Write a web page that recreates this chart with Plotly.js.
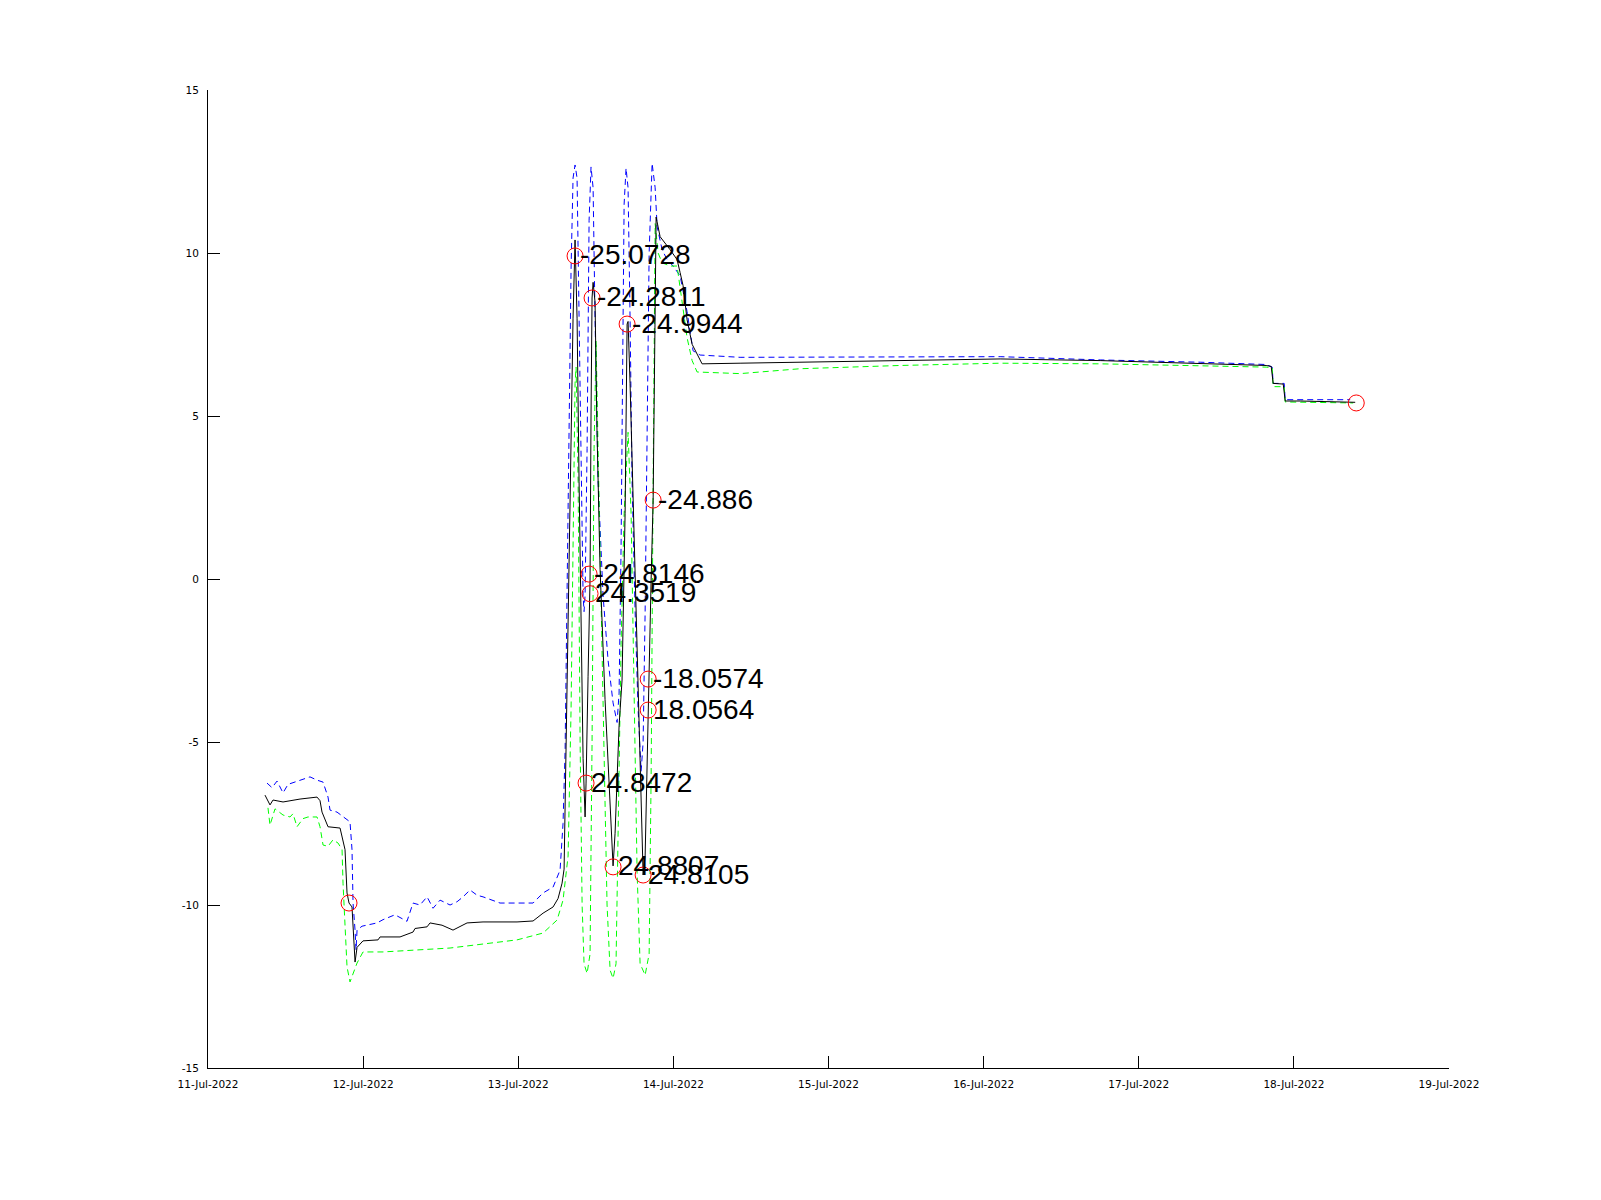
<!DOCTYPE html>
<html>
<head>
<meta charset="utf-8">
<script src="https://cdn.plot.ly/plotly-3.0.1.min.js"></script>
<style>html,body{margin:0;padding:0;background:#fff;}#chart{width:1601px;height:1200px;}</style>
</head>
<body>
<div id="chart"></div>
<script>
// Time values are hours since 11-Jul-2022 00:00
const blackHours = [8.82,9.59,10.06,11.61,14.24,16.87,17.33,17.64,18.57,20.43,21.20,21.51,21.82,22.28,22.75,23.06,23.98,26.31,26.62,29.71,31.72,32.03,33.89,34.35,36.21,37.91,40.08,42.55,47.81,50.29,51.84,53.39,54.16,54.78,55.09,55.40,56.02,56.48,56.79,57.10,57.41,57.72,58.03,58.34,58.49,58.80,59.11,59.26,59.42,59.58,59.88,60.19,60.66,61.43,62.05,62.67,62.98,63.60,64.06,64.53,64.84,64.99,65.30,65.77,66.39,66.85,67.32,67.63,67.94,68.10,68.17,68.56,68.87,69.18,69.33,69.64,69.95,71.50,72.57,73.04,73.50,74.12,74.90,75.67,76.44,82.32,91.61,107.08,122.55,138.03,153.50,163.71,164.49,164.80,166.35,166.66,168.98,173.62,177.49];
const blackValues = [-6.63,-6.93,-6.78,-6.84,-6.75,-6.69,-6.80,-7.15,-7.60,-7.64,-8.30,-9.63,-9.94,-10.06,-11.75,-11.30,-11.10,-11.07,-10.98,-10.98,-10.83,-10.72,-10.67,-10.55,-10.62,-10.77,-10.55,-10.52,-10.52,-10.49,-10.25,-10.06,-9.8,-9.33,-8.9,-5.0,2.0,8.0,10.4,8.0,3.0,-1.0,-5.5,-7.3,-6.26,-3.0,0.0,5.0,8.62,9.1,8.5,4.5,0.3,-3.7,-6.5,-8.8,-7.8,-4.5,-3.1,2.0,7.82,7.9,6.0,2.5,-2.0,-5.5,-9.08,-8.5,-5.5,-4.0,-3.07,0.0,2.4,8.0,11.1,10.8,10.5,10.1,9.8,9.4,9.0,7.95,7.2,6.9,6.6,6.62,6.65,6.70,6.75,6.70,6.62,6.55,6.52,6.0,5.98,5.46,5.46,5.44,5.42];

const upperHours = [9.13,9.90,10.68,11.61,12.38,14.24,15.78,16.87,17.80,18.57,18.88,19.96,21.05,21.97,22.28,22.44,22.75,22.90,23.06,23.83,26.15,27.08,28.93,30.79,31.72,32.80,33.89,34.82,35.90,37.45,38.53,39.46,40.54,41.63,42.55,45.18,47.81,50.29,51.84,53.39,54.47,54.93,55.25,55.71,56.17,56.48,56.79,57.10,57.41,57.72,58.03,58.18,58.34,58.65,58.96,59.26,59.58,59.88,60.35,61.12,61.90,62.67,63.29,63.60,63.91,64.22,64.38,64.68,64.99,65.30,65.61,66.08,66.54,67.01,67.32,67.63,67.94,68.25,68.71,69.18,69.49,70.26,71.03,71.96,73.04,74.12,75.05,76.13,82.32,91.61,107.08,122.55,138.03,153.50,163.71,164.64,164.80,166.50,166.66,176.71];
const upperValues = [-6.26,-6.40,-6.2,-6.56,-6.3,-6.17,-6.07,-6.17,-6.23,-6.69,-7.09,-7.15,-7.3,-7.45,-8.3,-9.94,-10.77,-11.38,-10.77,-10.65,-10.55,-10.45,-10.3,-10.5,-9.94,-10.0,-9.75,-10.1,-9.85,-10.0,-9.9,-9.75,-9.54,-9.7,-9.75,-9.94,-9.94,-9.94,-9.63,-9.45,-8.93,-7.5,-5.25,2.0,9.5,12.3,12.7,12.3,8.0,2.5,-0.5,-1.0,-0.5,4.0,11.0,12.64,12.0,8.0,3.0,-0.5,-2.5,-3.8,-4.4,-3.5,1.0,8.0,11.5,12.6,12.0,8.0,3.0,-1.0,-4.0,-5.9,-5.0,-1.0,4.0,10.0,12.75,12.0,10.8,10.1,9.8,9.6,9.3,8.2,7.0,6.87,6.80,6.80,6.82,6.82,6.72,6.65,6.58,6.5,6.0,6.0,5.5,5.5];

const lowerHours = [9.28,9.59,10.37,11.61,12.69,13.15,13.77,14.70,15.47,16.87,17.33,17.80,18.57,19.34,20.12,20.74,20.89,21.20,21.51,21.97,22.44,23.06,23.98,27.08,37.45,47.81,51.84,54.01,54.93,55.71,56.17,56.48,56.79,56.95,57.26,57.57,57.88,58.18,58.65,59.11,59.42,59.73,60.04,60.35,61.12,61.74,62.21,62.67,63.13,63.44,63.91,64.38,64.99,65.46,65.92,66.39,66.85,67.63,68.25,68.56,68.87,69.18,69.64,70.26,71.50,72.57,73.35,74.12,74.90,75.67,82.32,91.61,107.08,122.55,138.03,153.50,163.71,164.64,164.80,166.50,166.66,177.18];
const lowerValues = [-7.02,-7.55,-7.05,-7.24,-7.3,-7.2,-7.6,-7.35,-7.3,-7.3,-7.6,-8.16,-8.2,-8.0,-8.1,-8.3,-9.33,-10.86,-11.9,-12.36,-12.1,-11.78,-11.44,-11.44,-11.32,-11.07,-10.86,-10.46,-9.85,-8.5,-4.0,2.0,6.0,6.5,3.0,-5.0,-10.0,-11.8,-12.1,-11.5,-5.0,4.0,7.3,4.0,-4.0,-10.0,-12.0,-12.25,-11.8,-8.0,-2.0,2.0,4.5,2.0,-3.0,-9.0,-11.8,-12.15,-11.5,-6.0,3.0,10.9,10.0,9.7,9.6,9.6,8.5,7.4,6.7,6.35,6.30,6.45,6.55,6.62,6.60,6.55,6.50,6.48,5.9,5.9,5.43,5.40];

const markHours  = [56.79,59.42,64.84,68.87,58.96,59.11,68.10,68.10,58.49,62.67,67.32,21.82,177.65];
const markValues = [9.91,8.62,7.82,2.42,0.15,-0.45,-3.07,-4.02,-6.26,-8.83,-9.08,-9.94,5.40];
const markLabels = ['-25.0728','-24.2811','-24.9944','-24.886','-24.8146','24.3519','-18.0574','18.0564','24.8472','24.8807','24.8105','',''];

const dayTicks = ['2022-07-11','2022-07-12','2022-07-13','2022-07-14','2022-07-15','2022-07-16','2022-07-17','2022-07-18','2022-07-19'];
const dayTickText = ['11-Jul-2022','12-Jul-2022','13-Jul-2022','14-Jul-2022','15-Jul-2022','16-Jul-2022','17-Jul-2022','18-Jul-2022','19-Jul-2022'];
const yTicks = [-15,-10,-5,0,5,10,15];

const origin = Date.UTC(2022, 6, 11);
const toDate = h => new Date(origin + h * 3600000).toISOString().replace('T', ' ').slice(0, 19);

const traces = [
  {x: upperHours.map(toDate), y: upperValues, type: 'scatter', mode: 'lines',
   line: {color: '#0000ff', width: 1, dash: '6px,4px'}, hoverinfo: 'skip'},
  {x: lowerHours.map(toDate), y: lowerValues, type: 'scatter', mode: 'lines',
   line: {color: '#00ff00', width: 1, dash: '6px,4px'}, hoverinfo: 'skip'},
  {x: blackHours.map(toDate), y: blackValues, type: 'scatter', mode: 'lines',
   line: {color: '#000000', width: 1}, hoverinfo: 'skip'},
  {x: markHours.map(toDate), y: markValues, type: 'scatter', mode: 'markers',
   marker: {symbol: 'circle-open', size: 16, color: '#ff0000', line: {width: 1, color: '#ff0000'}},
   hoverinfo: 'skip'}
];

const annotations = markLabels.map((t, i) => t === '' ? null : ({
  x: toDate(markHours[i]), y: markValues[i], xref: 'x', yref: 'y',
  text: t, showarrow: false, xanchor: 'left', yanchor: 'middle', xshift: 3, yshift: 1,
  font: {family: 'Liberation Sans, Arial, sans-serif', size: 28, color: '#000000'}
})).filter(a => a !== null);

const axisCommon = {
  showline: true, linecolor: '#000000', linewidth: 1, mirror: false,
  ticks: 'inside', ticklen: 12, tickwidth: 1, tickcolor: '#000000',
  showgrid: false, zeroline: false,
  tickfont: {family: 'DejaVu Sans, sans-serif', size: 10.5, color: '#000000'}
};

const layout = {
  width: 1601, height: 1200,
  margin: {l: 208, r: 152, t: 90, b: 132, pad: 0},
  paper_bgcolor: '#ffffff', plot_bgcolor: '#ffffff',
  showlegend: false,
  xaxis: Object.assign({}, axisCommon, {
    type: 'date', range: [dayTicks[0], dayTicks[dayTicks.length - 1]],
    tickmode: 'array', tickvals: dayTicks, ticktext: dayTickText,
    ticklabelstandoff: 6
  }),
  yaxis: Object.assign({}, axisCommon, {
    range: [-15, 15], tickmode: 'array', tickvals: yTicks, ticktext: yTicks.map(String),
    ticklabelstandoff: 6
  }),
  annotations: annotations
};

Plotly.newPlot('chart', traces, layout, {displayModeBar: false, staticPlot: true});
</script>
</body>
</html>
